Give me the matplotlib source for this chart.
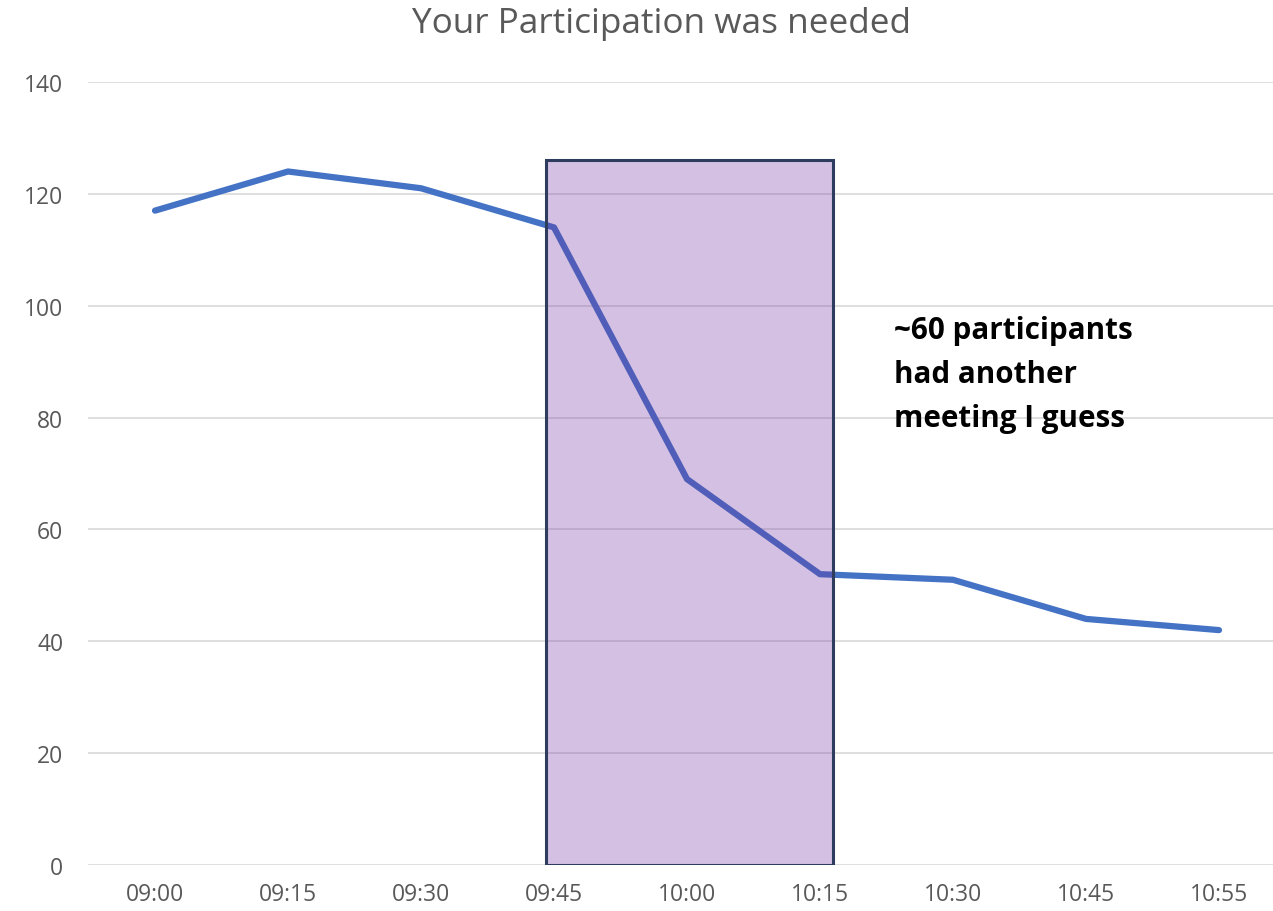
import matplotlib.pyplot as plt
from matplotlib.patches import Rectangle

times = ['09:00', '09:15', '09:30', '09:45', '10:00', '10:15', '10:30', '10:45', '10:55']
participants = [117, 124, 121, 114, 69, 52, 51, 44, 42]

# highlighted window (category index units) and its height
box_start, box_end, box_top = 2.94, 5.10, 126
note = '~60 participants\nhad another\nmeeting I guess'

plt.rcParams['font.family'] = ['Open Sans', 'DejaVu Sans']

fig = plt.figure(figsize=(12.73, 9.12), dpi=100)
ax = fig.add_axes([88.5 / 1273, 1 - 866 / 912, 1197 / 1273, 783 / 912])

x = list(range(len(times)))
ax.plot(x, participants, color='#4472C4', linewidth=4.5, solid_capstyle='round', zorder=3)

box = Rectangle((box_start, 0), box_end - box_start, box_top,
                facecolor=(0.44, 0.19, 0.63, 0.3), edgecolor='#2E3D5E',
                linewidth=2.2, zorder=4)
ax.add_patch(box)

ax.text(5.56, 98.3, note, fontsize=21.3, fontweight='bold', color='black',
        va='top', ha='left', linespacing=1.6)

ax.set_xlim(-0.5, 8.5)
ax.set_ylim(0, 140)
ax.set_yticks(range(0, 141, 20))
ax.set_xticks(x)
ax.set_xticklabels(times)
ax.tick_params(length=0, colors='#595959', labelsize=16.5)
ax.tick_params(axis='x', pad=12)
ax.tick_params(axis='y', pad=18)
ax.grid(axis='y', color='#D9D9D9', linewidth=1.2)
ax.set_axisbelow(True)
for s in ax.spines.values():
    s.set_visible(False)

fig.text(661 / 1273, 1 - 24 / 912, 'Your Participation was needed', ha='center', va='center',
         fontsize=25.3, color='#595959')

fig.savefig('out.png', dpi=100)
